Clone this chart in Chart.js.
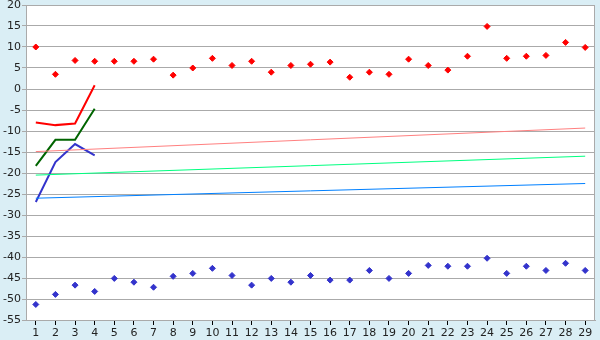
<!DOCTYPE html>
<html>
<head>
<meta charset="utf-8">
<script src="https://cdn.jsdelivr.net/npm/chart.js@4"></script>
<style>
  html, body { margin: 0; padding: 0; background: #daeef5; }
  #wrap { width: 600px; height: 340px; }
</style>
</head>
<body>
<div id="wrap"><canvas id="chart" width="600" height="340"></canvas></div>
<script>
const labels = Array.from({ length: 29 }, (_, i) => String(i + 1));

const upperPoints = [10, 3.5, 6.8, 6.6, 6.6, 6.6, 7.1, 3.3, 5, 7.3, 5.6, 6.6, 4, 5.6, 5.9, 6.4, 2.8, 4, 3.5,
  7.1, 5.6, 4.5, 7.8, 14.9, 7.3, 7.8, 8, 11.1, 9.9];
const lowerPoints = [-51.3, -48.9, -46.7, -48.2, -45.1, -46, -47.2, -44.6, -43.9, -42.7, -44.4, -46.7, -45.1,
  -46, -44.4, -45.5, -45.5, -43.2, -45.1, -43.9, -42, -42.2, -42.2, -40.3, -43.9, -42.2, -43.2, -41.5, -43.2];

const redLine = [-8, -8.6, -8.2, 0.9];
const greenLine = [-18.3, -12.1, -12.1, -4.7];
const blueLine = [-26.9, -17.4, -13.1, -15.8];

// trend lines: start and end values
const pinkTrend = [-14.9, -9.3];
const greenTrend = [-20.5, -16.0];
const blueTrend = [-26.0, -22.5];

function endpoints(pair) {
  const arr = new Array(labels.length).fill(null);
  arr[0] = pair[0];
  arr[labels.length - 1] = pair[1];
  return arr;
}

const frame = {
  id: 'frame',
  afterDraw(chart) {
    const { ctx, chartArea: a } = chart;
    ctx.save();
    ctx.strokeStyle = '#aaaaaa';
    ctx.lineWidth = 1;
    ctx.strokeRect(a.left + 0.5, a.top + 0.5, a.right - a.left - 1, a.bottom - a.top);
    ctx.restore();
  },
  beforeDraw(chart) {
    const { ctx, chartArea: a } = chart;
    ctx.save();
    ctx.fillStyle = '#ffffff';
    ctx.fillRect(a.left, a.top, a.right - a.left, a.bottom - a.top);
    ctx.restore();
  }
};

const pts = (data, color) => ({
  data, showLine: false, pointStyle: 'rectRot', pointRadius: 3, pointBorderWidth: 1,
  borderColor: color, backgroundColor: color, pointHoverRadius: 3
});
const line = (data, color, w) => ({
  data, borderColor: color, borderWidth: w, pointRadius: 0, spanGaps: true, tension: 0
});

new Chart(document.getElementById('chart'), {
  type: 'line',
  data: {
    labels: labels,
    datasets: [
      line(endpoints(pinkTrend), '#ff8080', 1),
      line(endpoints(greenTrend), '#00ff80', 1),
      line(endpoints(blueTrend), '#0080ff', 1),
      line(redLine, '#ff0000', 2),
      line(greenLine, '#006400', 2),
      line(blueLine, '#3333cc', 2),
      pts(upperPoints, '#ff0000'),
      pts(lowerPoints, '#3333cc')
    ]
  },
  options: {
    responsive: false,
    animation: false,
    devicePixelRatio: 1,
    layout: { padding: { top: 0, right: 5, left: 0, bottom: 0 } },
    plugins: { legend: { display: false }, tooltip: { enabled: false } },
    scales: {
      x: {
        offset: true,
        grid: { drawOnChartArea: false, drawTicks: true, tickLength: 5, color: '#000000' },
        border: { color: '#aaaaaa' },
        ticks: { color: '#222', font: { family: 'DejaVu Sans', size: 11 }, padding: 2, maxRotation: 0, autoSkip: false },
        afterFit(s) { s.height = 20; }
      },
      y: {
        min: -55, max: 20,
        grid: { color: '#aaaaaa', tickLength: 4 },
        border: { color: '#aaaaaa' },
        ticks: { stepSize: 5, color: '#222', font: { family: 'DejaVu Sans', size: 11 }, padding: 1 },
        afterFit(s) { s.width = 26; s.paddingTop = 5; }
      }
    }
  },
  plugins: [frame]
});
</script>
</body>
</html>
